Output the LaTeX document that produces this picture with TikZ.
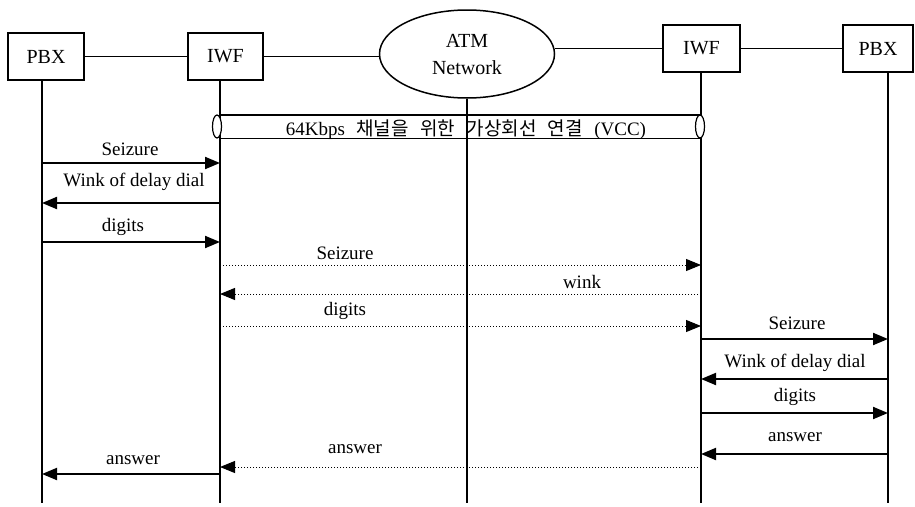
\documentclass[tikz,border=0pt]{standalone}
\usepackage{fontspec}
\setmainfont{Liberation Serif}
\newfontfamily\cjk{Noto Sans CJK KR}
\usetikzlibrary{arrows.meta,shapes.geometric}
\begin{document}
\begin{tikzpicture}[x=1pt,y=-1pt,
  ent/.style={draw,line width=1.5pt,minimum height=47pt,inner sep=0pt,font=\fontsize{20}{22}\selectfont},
  link/.style={line width=1.3pt},
  life/.style={line width=2.5pt},
  msg/.style={line width=2pt,-{Triangle[length=15pt,width=12pt]}},
  dmsg/.style={line width=1pt,dotted,-{Triangle[length=15pt,width=12pt]}},
  lbl/.style={font=\fontsize{19}{21}\selectfont,inner sep=0pt},
  bar/.style={line width=1.4pt}]
\useasboundingbox (0,0) rectangle (915,506);
% entities
\node[ent,minimum width=76pt] (pbx1) at (46,56.5) {PBX};
\node[ent,minimum width=75pt] (iwf1) at (225.5,56.5) {IWF};
\node[draw,ellipse,line width=1.5pt,minimum width=175pt,minimum height=88pt,inner sep=0pt,
      align=center,font=\fontsize{20}{27}\selectfont] (atm) at (467,54) {ATM\\Network};
\node[ent,minimum width=77pt] (iwf2) at (701.5,48.5) {IWF};
\node[ent,minimum width=70pt] (pbx2) at (878,48.5) {PBX};
\draw[link] (pbx1) -- (iwf1);
\draw[link] (iwf1.east) -- (atm.west |- iwf1.east);
\draw[link] (atm.east |- iwf2.west) -- (iwf2.west);
\draw[link] (iwf2) -- (pbx2);
% lifeline bottoms
\coordinate (L1) at (42,503);
\coordinate (L2) at (220,503);
\coordinate (L3) at (467,503);
\coordinate (L4) at (701,503);
\coordinate (L5) at (888,503);
% VCC bar
\draw[bar] (L2 |- 0,115) -- (L4 |- 0,115);
\draw[bar] (L2 |- 0,138.5) -- (L4 |- 0,138.5);
\node[lbl,anchor=base] (vcc) at (466,135) {64Kbps\hspace{0.6em}{\cjk\fontsize{19}{21}\selectfont 채널을\hspace{0.6em}위한\hspace{0.6em}가상회선\hspace{0.6em}연결}\hspace{0.6em}(VCC)};
% lifelines
\draw[life] (L1 |- pbx1.south) -- (L1);
\draw[life] (L2 |- iwf1.south) -- (L2);
\draw[life] (L3 |- atm.south) -- (L3);
\draw[life] (L4 |- iwf2.south) -- (L4);
\draw[life] (L5 |- pbx2.south) -- (L5);
\node[draw,ellipse,line width=1.2pt,minimum width=9pt,minimum height=23pt,inner sep=0pt,fill=white] (e1) at (217,126.5) {};
\node[draw,ellipse,line width=1.2pt,minimum width=9pt,minimum height=23pt,inner sep=0pt,fill=white] (e2) at (700,126.5) {};
% messages
\draw[msg] (L1 |- 0,163) -- (L2 |- 0,163);
\node[lbl] (m1) at (130,149) {Seizure};
\draw[msg] (L2 |- 0,203) -- (L1 |- 0,203);
\node[lbl] (m2) at (134,182) {Wink of delay dial};
\draw[msg] (L1 |- 0,242) -- (L2 |- 0,242);
\node[lbl] (m3) at (123,227) {digits};
\draw[dmsg] (L2 |- 0,265) -- (L4 |- 0,265);
\node[lbl] (m4) at (345,253) {Seizure};
\draw[dmsg] (L4 |- 0,294) -- (L2 |- 0,294);
\node[lbl] (m5) at (582,282) {wink};
\draw[dmsg] (L2 |- 0,326) -- (L4 |- 0,326);
\node[lbl] (m6) at (345,311) {digits};
\draw[msg] (L4 |- 0,339) -- (L5 |- 0,339);
\node[lbl] (m7) at (797,323) {Seizure};
\draw[msg] (L5 |- 0,379) -- (L4 |- 0,379);
\node[lbl] (m8) at (795,363) {Wink of delay dial};
\draw[msg] (L4 |- 0,413) -- (L5 |- 0,413);
\node[lbl] (m9) at (795,397) {digits};
\draw[msg] (L5 |- 0,454) -- (L4 |- 0,454);
\node[lbl] (m10) at (795,437) {answer};
\draw[dmsg] (L4 |- 0,467) -- (L2 |- 0,467);
\node[lbl] (m11) at (355,449) {answer};
\draw[msg] (L2 |- 0,474) -- (L1 |- 0,474);
\node[lbl] (m12) at (133,460) {answer};
\end{tikzpicture}
\end{document}
